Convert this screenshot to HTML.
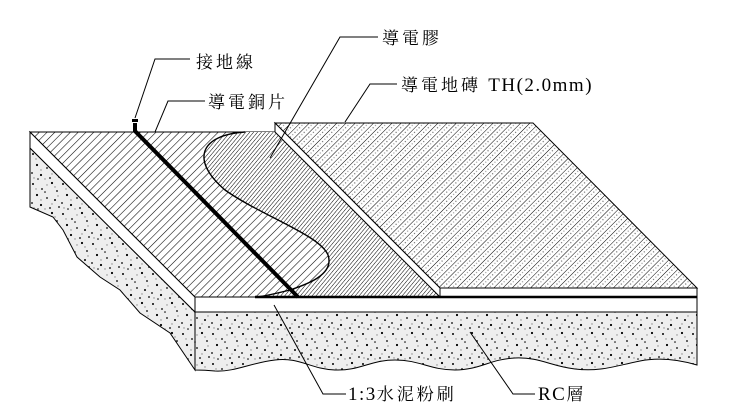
<!DOCTYPE html>
<html><head><meta charset="utf-8"><style>
html,body{margin:0;padding:0;background:#fff;}
svg{display:block;}
text{font-family:"Liberation Serif","Noto Serif CJK SC",serif;font-size:17px;fill:#000;letter-spacing:3px;}
.l{font-family:"Liberation Serif",serif;font-size:19px;letter-spacing:1.5px;}
</style></head><body>
<svg width="734" height="420" viewBox="0 0 734 420" xmlns="http://www.w3.org/2000/svg">
<defs>
<pattern id="h1" width="5.5" height="5.5" patternUnits="userSpaceOnUse" patternTransform="rotate(45)">
<line x1="0" y1="0" x2="0" y2="6" stroke="#000" stroke-width="1.1"/>
</pattern>
<pattern id="h2" width="3" height="3" patternUnits="userSpaceOnUse" patternTransform="rotate(40)">
<line x1="0" y1="0" x2="0" y2="3" stroke="#000" stroke-width="1"/>
</pattern>
<pattern id="ht" width="6.5" height="6.5" patternUnits="userSpaceOnUse" patternTransform="rotate(45)">
<line x1="0" y1="0" x2="0" y2="7" stroke="#000" stroke-width="1"/>
<circle cx="3.2" cy="2" r="0.6" fill="#555"/>
<circle cx="3.2" cy="5.2" r="0.6" fill="#888"/>
</pattern>
<pattern id="conc" width="30" height="30" patternUnits="userSpaceOnUse">
<rect width="30" height="30" fill="#eee"/>
<g fill="#000">
<circle cx="3" cy="4" r="1"/><circle cx="12" cy="9" r="0.9"/><circle cx="22" cy="3" r="1.1"/><circle cx="27" cy="11" r="0.9"/>
<circle cx="7" cy="15" r="1.1"/><circle cx="17" cy="18" r="0.9"/><circle cx="25" cy="20" r="1"/><circle cx="29" cy="27" r="0.9"/>
<circle cx="2" cy="23" r="0.9"/><circle cx="11" cy="25" r="1.1"/><circle cx="20" cy="28" r="0.9"/><circle cx="15" cy="12" r="0.8"/>
<circle cx="8" cy="29" r="0.8"/>
</g>
<g fill="#888">
<circle cx="6" cy="9" r="0.7"/><circle cx="17" cy="5" r="0.7"/><circle cx="25" cy="7" r="0.7"/><circle cx="11" cy="20" r="0.7"/>
<circle cx="22" cy="24" r="0.7"/><circle cx="28" cy="16" r="0.7"/><circle cx="4" cy="28" r="0.7"/><circle cx="15" cy="29" r="0.7"/>
</g>
</pattern>
</defs>

<path d="M30,148 L195,312 L195,370 L170,333 L140,313 L120,290 L100,277 L77,257 L63,230 L53,217 L30,207 Z" fill="url(#conc)" stroke="#000" stroke-width="1"/>
<path d="M195,312 L697,312 L697,365 C680,360 660,357 640,361 C615,366 600,372 575,369 C550,366 540,357 515,358 C490,359 480,370 455,370 C430,370 420,360 395,360 C370,360 360,371 335,370 C310,369 300,357 275,360 C250,363 235,372 215,371 C205,370 200,370 195,370 Z" fill="url(#conc)" stroke="#000" stroke-width="1"/>
<path d="M30,132 L195,297 L195,312 L30,148 Z" fill="#fff" stroke="#000" stroke-width="1"/>
<rect x="195" y="297" width="502" height="15" fill="#fff" stroke="#000" stroke-width="1"/>
<path d="M30,132 L280,132 L445,297 L195,297 Z" fill="#fff"/>
<path d="M30,132 L280,132 L445,297 L195,297 Z" fill="url(#h1)" stroke="#000" stroke-width="1"/>
<path d="M245,132 L280,132 L445,297 L255,297 C260,297 270,295 290,290 C305,285 335,275 328,255 C320,235 260,215 225,190 C190,160 200,135 245,132 Z" fill="#fff"/>
<path d="M245,132 L280,132 L445,297 L255,297 C260,297 270,295 290,290 C305,285 335,275 328,255 C320,235 260,215 225,190 C190,160 200,135 245,132 Z" fill="url(#h2)"/>
<path d="M245,132 C200,135 190,160 225,190 C260,215 320,235 328,255 C335,275 305,285 290,290 C270,295 260,297 255,297" fill="none" stroke="#000" stroke-width="1.4"/>
<path d="M275,123 L533,123 L697,288 L440,288 Z" fill="#fff"/>
<path d="M275,123 L533,123 L697,288 L440,288 Z" fill="url(#ht)" stroke="#000" stroke-width="1"/>
<path d="M275,123 L275,132 L440,297 L440,288 Z" fill="#fff" stroke="#000" stroke-width="1"/>
<rect x="440" y="288" width="257" height="9" fill="#fff" stroke="#000" stroke-width="1"/>
<line x1="255" y1="297" x2="697" y2="297" stroke="#000" stroke-width="2.5"/>
<path d="M135,123 L135,131 L298,297" fill="none" stroke="#000" stroke-width="4"/>
<rect x="132" y="119" width="6" height="3" fill="#000"/>

<g fill="none" stroke="#000" stroke-width="1">
<path d="M135,118 L155,59 L190,59"/>
<path d="M155,132 L168,101 L205,101"/>
<path d="M270,158 L340,37 L378,37"/>
<path d="M345,122 L370,84 L397,84"/>
<path d="M274,305 L323,394 L346,394"/>
<path d="M470,332 L513,394 L535,394"/>
</g>
<text x="196" y="68">接地線</text>
<text x="208" y="108">導電銅片</text>
<text x="382" y="44">導電膠</text>
<text x="401" y="91">導電地磚 <tspan class="l">TH(2.0mm)</tspan></text>
<text x="348" y="400"><tspan class="l">1:3</tspan>水泥粉刷</text>
<text x="538" y="400"><tspan class="l" letter-spacing="0">RC</tspan>層</text>
</svg>
</body></html>
